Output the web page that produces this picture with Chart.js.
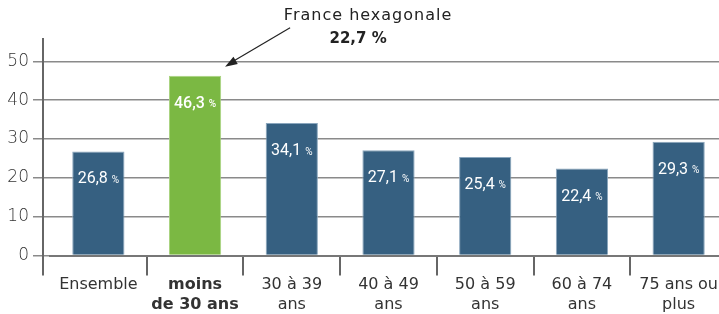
<!DOCTYPE html>
<html>
<head>
<meta charset="utf-8">
<script src="https://cdn.jsdelivr.net/npm/chart.js@4"></script>
<style>
  html, body { margin: 0; padding: 0; background: #fff; overflow: hidden; }
  #wrap { width: 731px; height: 314px; position: relative; }
</style>
</head>
<body>
<div id="wrap"><canvas id="chart"></canvas></div>
<script>
// Data
const categories = [
    ['Ensemble'],
    ['moins', 'de 30 ans'],
    ['30 à 39', 'ans'],
    ['40 à 49', 'ans'],
    ['50 à 59', 'ans'],
    ['60 à 74', 'ans'],
    ['75 ans ou', 'plus']
];
const values = [26.8, 46.3, 34.1, 27.1, 25.4, 22.4, 29.3];
const highlightIndex = 1;
const yTicks = [0, 10, 20, 30, 40, 50];
const noteLines = ['France hexagonale', '22,7 %'];

const BLUE = '#366081';
const BLUE_EDGE = '#8aa6bd';
const GREEN = '#7bb843';
const GREEN_EDGE = '#a9d37f';
const FONT = "'DejaVu Sans', sans-serif";
const AXIS_X = 43;

function fmt(v) {
    return v.toFixed(1).replace('.', ',');
}

// White value labels inside each bar ("26,8" + small "%")
const valueLabels = {
    id: 'valueLabels',
    afterDatasetsDraw(chart) {
        const ctx = chart.ctx;
        const meta = chart.getDatasetMeta(0);
        ctx.save();
        ctx.fillStyle = '#fff';
        ctx.textBaseline = 'middle';
        meta.data.forEach((bar, i) => {
            const num = fmt(values[i]);
            const weight = i === highlightIndex ? '500 ' : '';
            const f1 = weight + '16px Roboto, sans-serif';
            const f2 = weight + '10px Roboto, sans-serif';
            ctx.font = f1;
            const w1 = ctx.measureText(num + ' ').width;
            ctx.font = f2;
            const w2 = ctx.measureText('%').width;
            const x0 = bar.x - (w1 + w2) / 2;
            const y = bar.y + 28;
            ctx.font = f1;
            ctx.textAlign = 'left';
            ctx.fillText(num + ' ', x0, y);
            ctx.font = f2;
            ctx.fillText('%', x0 + w1, y + 1);
        });
        ctx.restore();
    }
};

// Vertical axis line a little left of the first category
const yAxisLine = {
    id: 'yAxisLine',
    afterDraw(chart) {
        const ctx = chart.ctx;
        const area = chart.chartArea;
        ctx.save();
        ctx.strokeStyle = '#666';
        ctx.lineWidth = 2;
        ctx.beginPath();
        ctx.moveTo(AXIS_X, area.top);
        ctx.lineTo(AXIS_X, area.bottom + 20);
        ctx.stroke();
        ctx.restore();
    }
};

// Annotation with arrow pointing at the highlighted bar
const note = {
    id: 'note',
    afterDraw(chart) {
        const ctx = chart.ctx;
        const bar = chart.getDatasetMeta(0).data[highlightIndex];
        const tipX = bar.x + 30, tipY = bar.y - 9;
        const startX = tipX + 65, startY = tipY - 39;
        ctx.save();
        ctx.strokeStyle = '#222';
        ctx.fillStyle = '#222';
        ctx.lineWidth = 1.2;
        ctx.beginPath();
        ctx.moveTo(startX, startY);
        ctx.lineTo(tipX + 9, tipY - 6);
        ctx.stroke();
        const ang = Math.atan2(tipY - startY, tipX - startX);
        ctx.beginPath();
        ctx.moveTo(tipX, tipY);
        ctx.lineTo(tipX - 13 * Math.cos(ang - 0.33), tipY - 13 * Math.sin(ang - 0.33));
        ctx.lineTo(tipX - 13 * Math.cos(ang + 0.33), tipY - 13 * Math.sin(ang + 0.33));
        ctx.closePath();
        ctx.fill();
        ctx.textAlign = 'center';
        ctx.textBaseline = 'middle';
        ctx.letterSpacing = '1px';
        ctx.font = '16px ' + FONT;
        ctx.fillText(noteLines[0], startX + 78, 16);
        ctx.letterSpacing = '0px';
        ctx.font = 'bold 15px ' + FONT;
        ctx.fillText(noteLines[1], startX + 68, 39);
        ctx.restore();
    }
};

new Chart(document.getElementById('chart'), {
    type: 'bar',
    data: {
        labels: categories,
        datasets: [{
            data: values,
            backgroundColor: values.map((v, i) => i === highlightIndex ? GREEN : BLUE),
            borderColor: values.map((v, i) => i === highlightIndex ? GREEN_EDGE : BLUE_EDGE),
            borderWidth: { top: 1, left: 1, right: 1, bottom: 0 },
            borderSkipped: 'bottom',
            barPercentage: 0.54,
            categoryPercentage: 1
        }]
    },
    options: {
        responsive: true,
        maintainAspectRatio: false,
        animation: false,
        layout: { padding: { top: 38, right: 4, left: 0, bottom: 0 } },
        plugins: {
            legend: { display: false },
            tooltip: { enabled: false }
        },
        scales: {
            x: {
                offset: true,
                grid: {
                    offset: true,
                    drawOnChartArea: false,
                    drawTicks: true,
                    tickLength: 20,
                    color: c => c.index === 0 ? 'rgba(0,0,0,0)' : '#666',
                    lineWidth: 2
                },
                border: { color: '#777', width: 2 },
                ticks: {
                    color: '#333',
                    padding: 0,
                    maxRotation: 0,
                    font: c => ({
                        family: FONT,
                        size: 16,
                        weight: c.index === highlightIndex ? 'bold' : 'normal',
                        lineHeight: 1.2
                    })
                }
            },
            y: {
                min: 0,
                max: 56,
                afterFit(scale) { scale.width = 50; },
                afterBuildTicks(scale) {
                    scale.ticks = yTicks.map(v => ({ value: v }));
                },
                grid: {
                    color: '#8a8a8a',
                    lineWidth: 1.5,
                    drawTicks: true,
                    tickLength: 17
                },
                border: { display: false },
                ticks: {
                    color: '#333',
                    padding: 4,
                    font: { family: FONT, size: 17, weight: 300 }
                }
            }
        }
    },
    plugins: [valueLabels, yAxisLine, note]
});
</script>
</body>
</html>
